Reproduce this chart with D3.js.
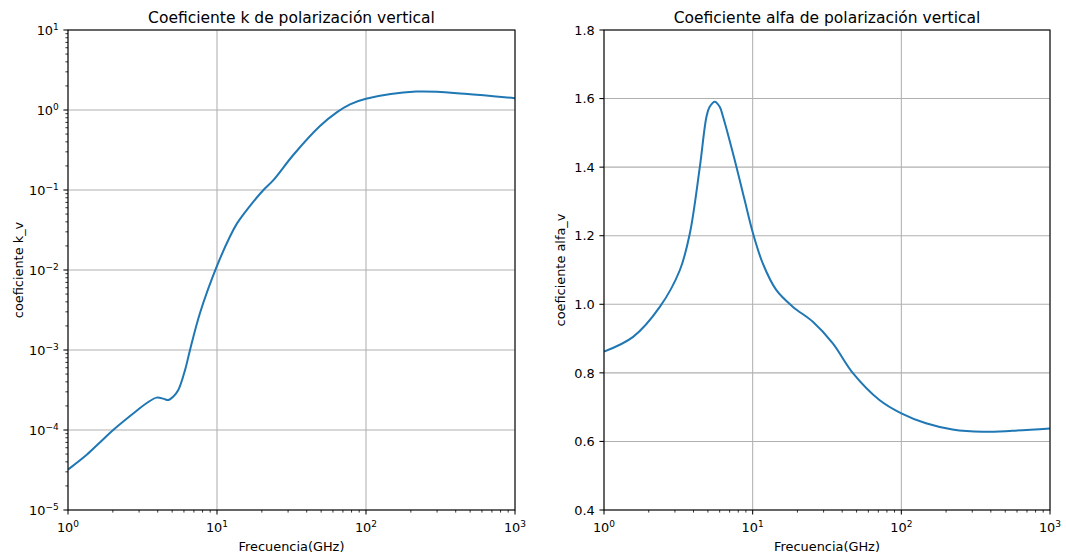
<!DOCTYPE html>
<html><head><meta charset="utf-8">
<script src="https://cdn.jsdelivr.net/npm/d3@7"></script>
<style>
body{margin:0;background:#fff}
text{font-family:"DejaVu Sans",sans-serif;fill:#000}
</style>
</head><body>
<svg id="c" width="1066" height="559"></svg>
<script>
// ---- data ----
const freqK = [1, 1.335, 1.65, 2.01, 2.89, 3.4, 3.94, 4.4, 4.71, 5.1, 5.5, 6.1, 6.59, 7.69, 9.95, 12.2, 13.6, 17.5, 20.5, 23.9, 32.5, 49.1, 63.6, 78.1, 100, 217, 459, 1000];
const kV    = [3.2e-5, 4.9e-5, 7.1e-5, 1.0e-4, 1.74e-4, 2.19e-4, 2.54e-4, 2.45e-4, 2.37e-4, 2.63e-4, 3.16e-4, 5.6e-4, 1.0e-3, 2.9e-3, 1.1e-2, 2.6e-2, 3.8e-2, 7.1e-2, 0.1, 0.133, 0.274, 0.63, 0.933, 1.175, 1.38, 1.70, 1.60, 1.40];
const freqA = [1, 1.57, 2.38, 3.24, 3.78, 4.41, 4.89, 5.14, 5.56, 6.0, 6.32, 7.57, 8.83, 10.05, 11.7, 14.4, 18.6, 25.4, 34.6, 47.1, 71.2, 100, 146.5, 221, 351, 558, 1000];
const alphaV = [0.862, 0.905, 0.993, 1.10, 1.207, 1.40, 1.547, 1.576, 1.591, 1.576, 1.547, 1.421, 1.304, 1.207, 1.119, 1.042, 0.993, 0.949, 0.886, 0.80, 0.721, 0.682, 0.653, 0.635, 0.628, 0.631, 0.638];
const xTickExps = [0, 1, 2, 3];
const kTickExps = [-5, -4, -3, -2, -1, 0, 1];
const alphaTicks = [0.4, 0.6, 0.8, 1.0, 1.2, 1.4, 1.6, 1.8];
const titles = ["Coeficiente k de polarización vertical", "Coeficiente alfa de polarización vertical"];
const yLabels = ["coeficiente k_v", "coeficiente alfa_v"];
const xLabel = "Frecuencia(GHz)";

// ---- layout ----
const svg = d3.select("#c");
const Y0 = 30, Y1 = 510;
const panels = [{x0: 68, x1: 515, yl: 45}, {x0: 604, x1: 1050, yl: 39}];
const MAJ = 4.6, MIN = 2.6, FS = 12.9, SUP = 9.0, TFS = 15.5;

function supLabel(sel, exp) {
  sel.append("tspan").text("10");
  sel.append("tspan").attr("dy", -5.5).attr("font-size", SUP).text(String(exp).replace("-", "\u2212"));
}

panels.forEach((p, i) => {
  const g = svg.append("g");
  const xs = d3.scaleLog().domain([1, 1000]).range([p.x0, p.x1]);
  const ys = i === 0 ? d3.scaleLog().domain([1e-5, 10]).range([Y1, Y0])
                     : d3.scaleLinear().domain([0.4, 1.8]).range([Y1, Y0]);
  const cid = "clip" + i;
  g.append("clipPath").attr("id", cid).append("rect")
    .attr("x", p.x0).attr("y", Y0).attr("width", p.x1 - p.x0).attr("height", Y1 - Y0);

  // grid
  const xMaj = xTickExps.map(e => Math.pow(10, e));
  const yMaj = i === 0 ? kTickExps.map(e => Math.pow(10, e)) : alphaTicks;
  g.selectAll(".gx").data(xMaj).enter().append("line")
    .attr("x1", d => xs(d)).attr("x2", d => xs(d)).attr("y1", Y0).attr("y2", Y1)
    .attr("stroke", "#b0b0b0").attr("stroke-width", 1.05);
  g.selectAll(".gy").data(yMaj).enter().append("line")
    .attr("y1", d => ys(d)).attr("y2", d => ys(d)).attr("x1", p.x0).attr("x2", p.x1)
    .attr("stroke", "#b0b0b0").attr("stroke-width", 1.05);

  // line
  const data = i === 0 ? freqK.map((f, j) => ({f, v: kV[j]})) : freqA.map((f, j) => ({f, v: alphaV[j]}));
  const line = d3.line().x(d => xs(d.f)).y(d => ys(d.v)).curve(d3.curveCatmullRom.alpha(0.5));
  g.append("path").datum(data).attr("d", line).attr("fill", "none")
    .attr("stroke", "#1f77b4").attr("stroke-width", 2.0).attr("clip-path", `url(#${cid})`);

  // spines
  g.append("rect").attr("x", p.x0).attr("y", Y0).attr("width", p.x1 - p.x0).attr("height", Y1 - Y0)
    .attr("fill", "none").attr("stroke", "#000").attr("stroke-width", 1.05);

  // x ticks
  const xMinor = [];
  for (let e = 0; e < 3; e++) for (let m = 2; m <= 9; m++) xMinor.push(m * Math.pow(10, e));
  g.selectAll(".xt").data(xMaj).enter().append("line")
    .attr("x1", d => xs(d)).attr("x2", d => xs(d)).attr("y1", Y1).attr("y2", Y1 + MAJ)
    .attr("stroke", "#000").attr("stroke-width", 1.05);
  g.selectAll(".xm").data(xMinor).enter().append("line")
    .attr("x1", d => xs(d)).attr("x2", d => xs(d)).attr("y1", Y1).attr("y2", Y1 + MIN)
    .attr("stroke", "#000").attr("stroke-width", 0.8);
  xTickExps.forEach(e => {
    const t = g.append("text").attr("x", xs(Math.pow(10, e))).attr("y", Y1 + 22)
      .attr("text-anchor", "middle").attr("font-size", FS);
    supLabel(t, e);
  });

  // y ticks
  g.selectAll(".yt").data(yMaj).enter().append("line")
    .attr("y1", d => ys(d)).attr("y2", d => ys(d)).attr("x1", p.x0 - MAJ).attr("x2", p.x0)
    .attr("stroke", "#000").attr("stroke-width", 1.05);
  if (i === 0) {
    const yMinor = [];
    for (let e = -5; e < 1; e++) for (let m = 2; m <= 9; m++) yMinor.push(m * Math.pow(10, e));
    g.selectAll(".ym").data(yMinor).enter().append("line")
      .attr("y1", d => ys(d)).attr("y2", d => ys(d)).attr("x1", p.x0 - MIN).attr("x2", p.x0)
      .attr("stroke", "#000").attr("stroke-width", 0.8);
    kTickExps.forEach(e => {
      const t = g.append("text").attr("x", p.x0 - 9.2).attr("y", ys(Math.pow(10, e)) + 5)
        .attr("text-anchor", "end").attr("font-size", FS);
      supLabel(t, e);
    });
  } else {
    alphaTicks.forEach(v => {
      g.append("text").attr("x", p.x0 - 9.2).attr("y", ys(v) + 4.7)
        .attr("text-anchor", "end").attr("font-size", FS).text(v.toFixed(1));
    });
  }

  // titles & labels
  g.append("text").attr("x", (p.x0 + p.x1) / 2).attr("y", 22.5).attr("text-anchor", "middle")
    .attr("font-size", TFS).text(titles[i]);
  g.append("text").attr("x", (p.x0 + p.x1) / 2).attr("y", 551).attr("text-anchor", "middle")
    .attr("font-size", FS).text(xLabel);
  g.append("text").attr("transform", `translate(${p.x0 - p.yl},${(Y0 + Y1) / 2}) rotate(-90)`)
    .attr("text-anchor", "middle").attr("font-size", FS).text(yLabels[i]);
});
</script>
</body></html>
